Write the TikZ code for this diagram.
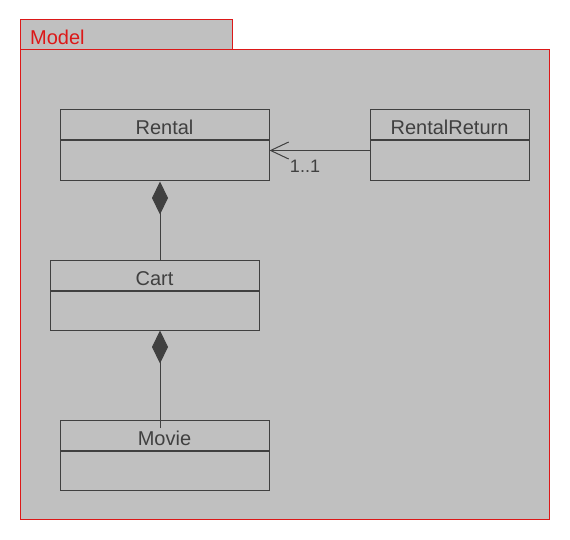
\documentclass[tikz,border=0pt]{standalone}
\usepackage{fontspec}
\setmainfont{Liberation Sans}
\usetikzlibrary{arrows.meta}

\definecolor{pkgfill}{RGB}{192,192,192}
\definecolor{pkgred}{RGB}{220,24,24}
\definecolor{umlgray}{RGB}{64,64,64}

\tikzset{
  classname/.style={draw=umlgray, line width=1pt, minimum height=30pt, inner sep=0pt,
    text height=20pt, text depth=0pt,
    text=umlgray, font=\fontsize{20}{23}\selectfont},
  classbody/.style={draw=umlgray, line width=1pt, minimum height=40pt, inner sep=0pt,
    anchor=north},
  comp/.style={draw=umlgray, line width=1pt,
    -{Diamond[length=33pt,width=16pt,fill=umlgray]}},
  nav/.style={draw=umlgray, line width=1pt,
    -{Straight Barb[length=18pt,width=17pt,line width=1pt]}}
}

\begin{document}
\begin{tikzpicture}[x=1pt,y=-1pt]
\fill[white] (0,0) rectangle (570,540);
\useasboundingbox (0,0) rectangle (570,540);

% package
\filldraw[fill=pkgfill, draw=pkgred, line width=1pt] (20,20) rectangle (232,50);
\filldraw[fill=pkgfill, draw=pkgred, line width=1pt] (20,50) rectangle (549,519);
\node[anchor=west, inner sep=0pt, text=pkgred, font=\fontsize{20}{23}\selectfont] (model) at (30,37.5) {Model};

% classes
\node[classname, minimum width=209pt] (rentalname) at (164.5,125) {Rental};
\node[classbody, minimum width=209pt] (rentalbody) at (rentalname.south) {};

\node[classname, minimum width=159pt] (returnname) at (449.5,125) {RentalReturn};
\node[classbody, minimum width=159pt] (returnbody) at (returnname.south) {};

\node[classname, minimum width=209pt] (cartname) at (154.5,275) {Cart};
\node[classbody, minimum width=209pt, minimum height=39pt] (cartbody) at (cartname.south) {};

\node[classname, minimum width=209pt] (moviename) at (164.5,435) {Movie};
\node[classbody, minimum width=209pt, minimum height=39pt] (moviebody) at (moviename.south) {};

% associations
\coordinate (c1) at (160,260);
\coordinate (c2) at (160,428);
\draw[comp] (c1) -- (c1 |- rentalbody.south);
\draw[comp] (c2) -- (c2 |- cartbody.south);

\draw[nav] (returnbody.north west) ++(0,10) coordinate (r1) -- (r1 -| rentalbody.east);
\node[text=umlgray, inner sep=0pt, font=\fontsize{18}{21}\selectfont] (mult) at (305,166.5) {1..1};
\end{tikzpicture}
\end{document}
